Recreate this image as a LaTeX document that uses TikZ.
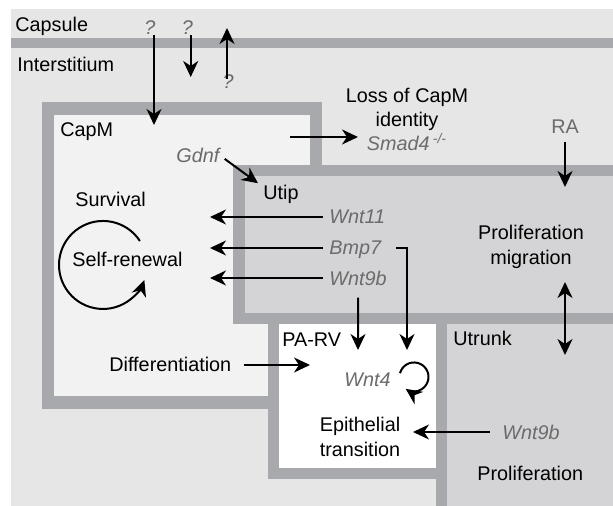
\documentclass[tikz,border=0pt]{standalone}
\usepackage{fontspec}
\setmainfont{Liberation Sans}
\usetikzlibrary{arrows.meta}
\definecolor{bggray}{HTML}{E6E6E6}
\definecolor{wallgray}{HTML}{A8A9AC}
\definecolor{capmfill}{HTML}{F2F2F2}
\definecolor{budfill}{HTML}{D4D4D6}
\definecolor{genegray}{HTML}{6B6B6B}
\begin{document}
\begin{tikzpicture}[x=0.5pt, y=-0.5pt,
  txt/.style={font=\fontsize{9.9}{12.2}\selectfont, inner sep=0pt, align=center},
  gene/.style={txt, font=\fontsize{9.9}{12.2}\selectfont\itshape, text=genegray},
  arr/.style={->, line width=1pt},
  >={Stealth[length=8pt, width=7.5pt, inset=2.5pt]}
]
\useasboundingbox (0,0) rectangle (613,506);

% Compartments (walls drawn as grey rectangles under the fills)
\fill[bggray] (11,9) rectangle (613,505.5);
\fill[wallgray] (11,38) rectangle (613,48);
\fill[wallgray] (42,102) rectangle (322,409);
\fill[capmfill] (54,115) rectangle (310,396);
\fill[wallgray] (233,165) rectangle (613,324);
\fill[wallgray] (268,313) rectangle (447,479);
\fill[wallgray] (436,313) rectangle (613,506);
\fill[budfill] (245,176) rectangle (613,313);
\fill[white] (279,324) rectangle (436,468);
\fill[budfill] (447,324) rectangle (613,506);

% Region labels
\node[txt, anchor=base west] (capsule) at (15,32) {Capsule};
\node[txt, anchor=base west] (interst) at (17,72) {Interstitium};
\node[txt, anchor=base west] (capm) at (60,137) {CapM};
\node[txt, anchor=base west] (utip) at (263,200) {Utip};
\node[txt, anchor=base west] (parv) at (282,347) {PA-RV};
\node[txt, anchor=base west] (utrunk) at (453,345) {Utrunk};

% Processes
\node[txt, anchor=base west] (survival) at (75,207) {Survival};
\node[txt, anchor=base west] (selfrenew) at (72,267) {Self-renewal};
\node[txt, anchor=base west] (differ) at (109,371) {Differentiation};
\node[txt] (loss) at (407,119.5)
  {Loss of CapM\\identity\\{\color{genegray}\itshape Smad4\,\textsuperscript{-/-}}};
\node[txt] (prolmig) at (531,247) {Proliferation\\migration};
\node[txt] (epith) at (360,437) {Epithelial\\transition};
\node[txt, anchor=base west] (prolif) at (477,480) {Proliferation};

% Signals
\node[gene, anchor=base] (q1) at (150,35) {?};
\node[gene, anchor=base] (q2) at (187.5,35) {?};
\node[gene, anchor=base] (q3) at (228,89) {?};
\node[gene, anchor=base west] (gdnf) at (176,163) {Gdnf};
\node[txt, text=genegray, anchor=base] (ra) at (565,134) {RA};
\node[gene, anchor=base west] (wnt11) at (329,224) {Wnt11};
\node[gene, anchor=base west] (bmp7) at (329,255) {Bmp7};
\node[gene, anchor=base west] (wnt9b) at (329,286) {Wnt9b};
\node[gene, anchor=base west] (wnt4) at (344,386) {Wnt4};
\node[gene, anchor=base west] (wnt9bu) at (502,439) {Wnt9b};

% Free arrow ends
\coordinate (capin) at (154,125);
\coordinate (intin) at (190.7,77);
\coordinate (capout) at (227,28);
\coordinate (capmout) at (290,137);
\coordinate (lossin) at (358,137);
\coordinate (raend) at (565,187);
\coordinate (utipend) at (565,282);
\coordinate (utrunkend) at (565,355);
\coordinate (surv1) at (210,217);
\coordinate (surv2) at (210,248);
\coordinate (surv3) at (210,278);
\coordinate (parv1) at (358,350);
\coordinate (parv2) at (407,350);
\coordinate (parvin) at (310,365);
\coordinate (epin) at (413,432);

% Arrows
\draw[arr] (q1.south -| capin) -- (capin);
\draw[arr] (q2.south -| intin) -- (intin);
\draw[arr, shorten <=-2pt] (q3.north -| capout) -- (capout);
\draw[arr] (capmout) -- (lossin);
\draw[arr] ([xshift=2.5pt, yshift=-1.5pt]gdnf.east) -- ([xshift=-2.5pt, yshift=1pt]utip.north west);
\draw[arr, shorten <=4pt] (ra.south) -- (raend);
\draw[<->, line width=1pt] (utipend) -- (utrunkend);
\draw[arr, shorten <=3pt] (wnt11.west |- surv1) -- (surv1);
\draw[arr, shorten <=3pt] (bmp7.west |- surv2) -- (surv2);
\draw[arr, shorten <=3pt] (wnt9b.west |- surv3) -- (surv3);
\draw[arr, shorten <=7pt] (bmp7.east |- surv2) -| (parv2);
\draw[arr, shorten <=5.5pt] (wnt9b.south) -- (parv1);
\draw[arr, shorten <=6pt] (differ.east |- parvin) -- (parvin);
\draw[arr, shorten <=6pt] (wnt9bu.west |- epin) -- (epin);

% Loops
\draw[arr] (139.9,241) arc[start angle=33, end angle=340, radius=22pt];
\draw[arr] (400,373.2) arc[start angle=165, end angle=-125, radius=7.25pt];

\end{tikzpicture}
\end{document}
